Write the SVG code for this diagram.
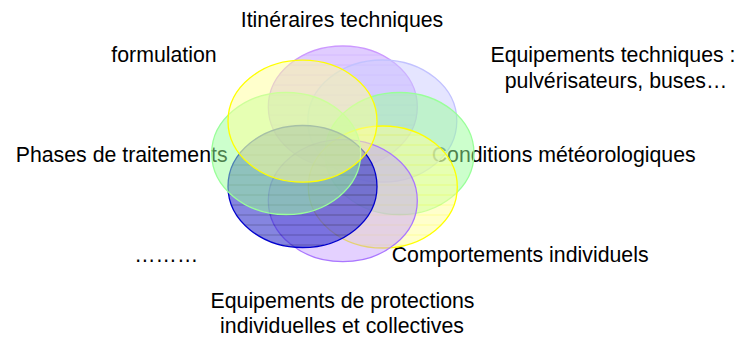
<svg xmlns="http://www.w3.org/2000/svg" width="740" height="337" viewBox="0 0 740 337">
  <style>
    .lbl { font-family: "Liberation Sans", Arial, sans-serif; font-size: 21.3px; fill: #000000; }
    .mid { text-anchor: middle; }
    .ell { stroke-width: 1.3; }
  </style>
  <defs>
    <pattern id="linesPurple" patternUnits="userSpaceOnUse" width="10" height="10">
      <rect width="10" height="10" fill="#c29aff"/>
      <line x1="0" y1="5" x2="10" y2="5" stroke="#a877ff" stroke-width="1"/>
    </pattern>
    <pattern id="linesBlue" patternUnits="userSpaceOnUse" width="10" height="10">
      <rect width="10" height="10" fill="#3333cc"/>
      <line x1="0" y1="5" x2="10" y2="5" stroke="#000077" stroke-width="1"/>
    </pattern>
    <pattern id="linesYellow" patternUnits="userSpaceOnUse" width="10" height="10">
      <rect width="10" height="10" fill="#ffff99"/>
      <line x1="0" y1="5" x2="10" y2="5" stroke="#ffff33" stroke-width="1"/>
    </pattern>
  </defs>
  <rect width="740" height="337" fill="#ffffff"/>

  <g id="labels">
    <text class="lbl mid" x="342" y="27">Itinéraires techniques</text>
    <text class="lbl mid" x="164" y="62">formulation</text>
    <text class="lbl mid" x="613" y="62">Equipements techniques :</text>
    <text class="lbl mid" x="616" y="87.5">pulvérisateurs, buses…</text>
    <text class="lbl" x="15.7" y="162">Phases de traitements</text>
    <text class="lbl" x="431.7" y="162">Conditions météorologiques</text>
    <text class="lbl" x="134.3" y="262">………</text>
    <text class="lbl" x="391.7" y="262">Comportements individuels</text>
    <text class="lbl mid" x="342.5" y="308">Equipements de protections</text>
    <text class="lbl mid" x="342" y="333">individuelles et collectives</text>
  </g>

  <g id="connectors"/>

  <g id="node-itineraires">
    <ellipse class="ell" cx="342.8" cy="107" rx="74.5" ry="61" fill="url(#linesPurple)" fill-opacity="0.5" stroke="#cc99ff"/>
  </g>
  <g id="node-equipements-techniques">
    <ellipse class="ell" cx="382.3" cy="121" rx="74.5" ry="61" fill="#ccccff" fill-opacity="0.5" stroke="#c2c2ff"/>
  </g>
  <g id="node-conditions">
    <ellipse class="ell" cx="399.5" cy="153.5" rx="74.5" ry="61" fill="#99ff99" fill-opacity="0.5" stroke="#99ff99"/>
  </g>
  <g id="node-comportements">
    <ellipse class="ell" cx="382.8" cy="187" rx="74.5" ry="61" fill="url(#linesYellow)" fill-opacity="0.5" stroke="#ffff00"/>
  </g>
  <g id="node-protections">
    <ellipse class="ell" cx="342.8" cy="200.7" rx="74.5" ry="61" fill="#c49aff" fill-opacity="0.45" stroke="#aa77ff"/>
  </g>
  <g id="node-dots">
    <ellipse class="ell" cx="302.5" cy="186.5" rx="74.5" ry="61" fill="url(#linesBlue)" fill-opacity="0.6" stroke="#0000cc"/>
  </g>
  <g id="node-phases">
    <ellipse class="ell" cx="286.2" cy="153.5" rx="74.5" ry="61" fill="#99ff99" fill-opacity="0.5" stroke="#99ff99"/>
  </g>
  <g id="node-formulation">
    <ellipse class="ell" cx="302.5" cy="121.2" rx="74.5" ry="61" fill="#ffff99" fill-opacity="0.5" stroke="#ffff00"/>
  </g>
</svg>
